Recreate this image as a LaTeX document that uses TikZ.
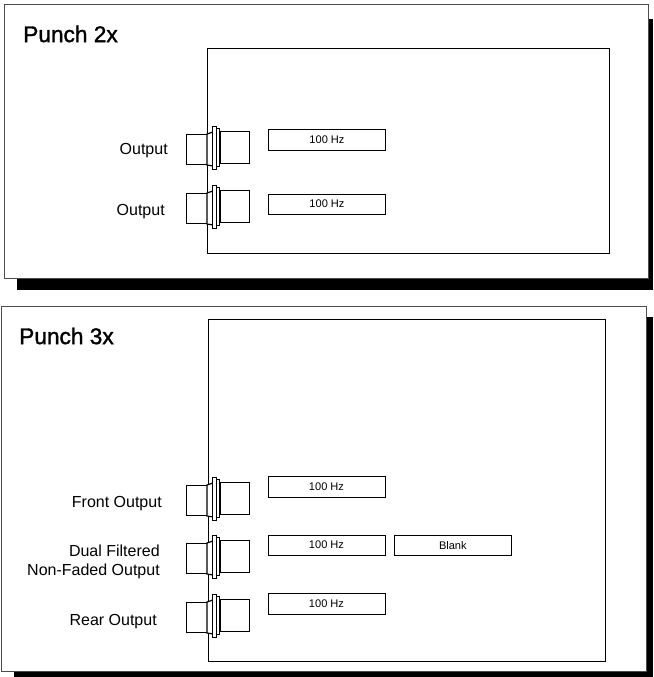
\documentclass[tikz,border=0pt]{standalone}
\usepackage{fontspec}
\setmainfont{Liberation Sans}
\newfontfamily\titlefont[FakeBold=1.5]{Liberation Sans}
\usetikzlibrary{positioning}
\tikzset{
    panel/.style={draw=black!70, rectangle, fill=white, anchor=north west, inner sep=0pt, outer sep=0pt, line width=0.75pt},
    shadowbox/.style={rectangle, fill=black, anchor=north west, inner sep=0pt, outer sep=0pt},
    chassis/.style={draw, rectangle, fill=white, anchor=north west, inner sep=0pt, outer sep=0pt, line width=0.75pt},
    filterbox/.style={draw, rectangle, fill=white, minimum width=88pt, minimum height=15.5pt, inner sep=0pt, outer sep=0pt, font=\fontsize{8.3}{9}\selectfont},
    outlabel/.style={align=right, anchor=east, inner sep=0pt, font=\fontsize{12}{14}\selectfont},
    titlelabel/.style={anchor=west, inner sep=0pt, font=\titlefont\fontsize{17}{19}\selectfont},
    jack/.pic={
        \draw[fill=white, line width=0.7pt] (-21,-15) rectangle (0,15);
        \draw[fill=white, line width=0.7pt] (13,-18) rectangle (42,14);
        \draw[fill=white, line width=0.9pt] (0,-15) -- (6,-17) -- (6,17) -- (0,16) -- cycle;
        \draw[fill=white, line width=0.7pt] (5,-23) rectangle (9,20);
        \draw[fill=white, line width=0.7pt] (9,-21) rectangle (12,17);
    }
}
\begin{document}
\begin{tikzpicture}[x=0.75pt,y=-0.75pt,node distance=48.75pt]
    \useasboundingbox (0,0) rectangle (653,677);
    % upper unit
    \node (shadowA) [shadowbox, minimum width=477pt, minimum height=203.25pt] at (17,19) {};
    \node (panelA) [panel, minimum width=483pt, minimum height=204.75pt] at (4,5) {};
    \node (chassisA) [chassis, minimum width=301.5pt, minimum height=153.5pt] at (207,49) {};
    \node (titleA) [titlelabel] at (23,34) {Punch 2x};
    \pic at (207,149) {jack};
    \pic at (207,208) {jack};
    \node (filterA) [filterbox] at (327,139.5) {100 Hz};
    \node (filterB) [filterbox, below=33pt of filterA] {100 Hz};
    \node (outA) [outlabel] at (168,151) {Output};
    \node (outB) [outlabel] at (165,212) {Output};
    % lower unit
    \node (shadowB) [shadowbox, minimum width=479.25pt, minimum height=270pt] at (14,317) {};
    \node (panelB) [panel, minimum width=483.75pt, minimum height=273.75pt] at (1,306) {};
    \node (chassisB) [chassis, minimum width=297.75pt, minimum height=256.5pt] at (208,319) {};
    \node (titleB) [titlelabel] at (19,336) {Punch 3x};
    \pic at (207,500) {jack};
    \pic at (207,558) {jack};
    \pic at (207,617) {jack};
    \node (filterC) [filterbox] at (326.5,486.5) {100 Hz};
    \node (filterD) [filterbox, below=28.5pt of filterC] {100 Hz};
    \node (blank) [filterbox, right=6.75pt of filterD] {Blank};
    \node (filterE) [filterbox, below=28.5pt of filterD] {100 Hz};
    \node (outC) [outlabel] at (162,504) {Front Output};
    \node (outD) [outlabel] at (160,562) {Dual Filtered\\Non-Faded Output};
    \node (outE) [outlabel] at (157,622) {Rear Output};
\end{tikzpicture}
\end{document}
